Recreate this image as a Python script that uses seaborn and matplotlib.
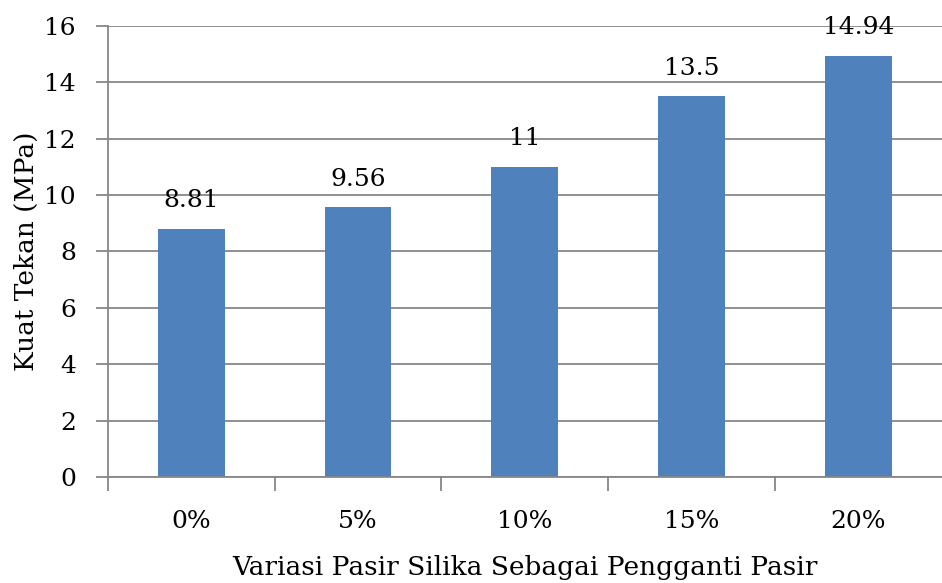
import matplotlib
matplotlib.use("Agg")
import matplotlib.pyplot as plt
import seaborn as sns
import pandas as pd
import numpy as np

# data
variasi = ["0%", "5%", "10%", "15%", "20%"]
kuat_tekan = [8.81, 9.56, 11, 13.5, 14.94]
label_teks = ["8.81", "9.56", "11", "13.5", "14.94"]

df = pd.DataFrame({"Variasi": variasi, "Kuat": kuat_tekan})

sns.set_style("white")
plt.rcParams["font.family"] = ["DejaVu Serif"]
plt.rcParams["text.color"] = "black"
plt.rcParams["axes.labelcolor"] = "black"
plt.rcParams["xtick.color"] = "black"
plt.rcParams["ytick.color"] = "black"

fig = plt.figure(figsize=(9.42, 5.83), dpi=100)
ax = fig.add_axes([0.1146, 0.182, 0.885, 0.7735])

sns.barplot(data=df, x="Variasi", y="Kuat", color="#4F81BD", saturation=1,
            width=0.4, linewidth=0, ax=ax)

ax.bar_label(ax.containers[0], labels=label_teks, padding=12, fontsize=18,
             color="black")

grid_c = "#878787"
ax.set_ylim(0, 16)
ax.set_yticks(np.arange(0, 17, 2))
ax.set_xlim(-0.5, len(variasi) - 0.5)
ax.yaxis.grid(True, color=grid_c, linewidth=1.3)
ax.set_axisbelow(True)

for s in ["top", "right"]:
    ax.spines[s].set_visible(False)
for s in ["left", "bottom"]:
    ax.spines[s].set_color(grid_c)
    ax.spines[s].set_linewidth(1.3)

ax.tick_params(axis="y", left=True, length=9, color=grid_c, width=1.3,
               labelsize=18, labelcolor="black", pad=14)
ax.tick_params(axis="x", which="major", length=0, labelsize=18,
               labelcolor="black", pad=24)
ax.set_xticks(np.arange(-0.5, len(variasi) - 1, 1), minor=True)
ax.tick_params(axis="x", which="minor", bottom=True, length=10,
               color=grid_c, width=1.3)

ax.set_xlabel("Variasi Pasir Silika Sebagai Pengganti Pasir", fontsize=19,
              labelpad=16)
ax.set_ylabel("Kuat Tekan (MPa)", fontsize=19, labelpad=4)

fig.savefig("out.png", dpi=100)
